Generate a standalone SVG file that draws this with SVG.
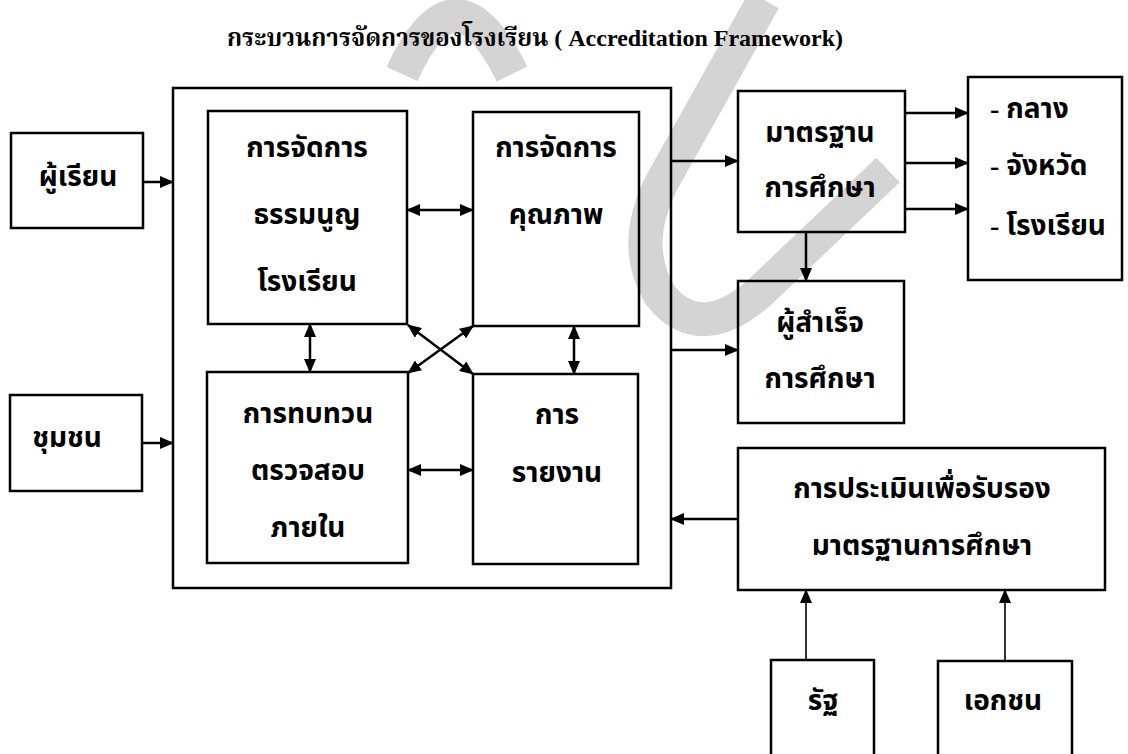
<svg xmlns="http://www.w3.org/2000/svg" width="1128" height="754" viewBox="0 0 1128 754">
<style>
.box{fill:none;stroke:#000;stroke-width:2.5}
.ln{fill:none;stroke:#000;stroke-width:2.5}
.thin{fill:none;stroke:#000;stroke-width:1.6}
.t{font-family:"Liberation Serif","Noto Sans Thai","Noto Serif Thai","Garuda","Loma","Norasi","Kinnari",serif;font-size:28px;font-weight:bold;fill:#000;text-anchor:middle}
.l{text-anchor:start}
.title{font-family:"Liberation Serif","Noto Serif Thai","Noto Sans Thai","Norasi",serif;font-size:24px;font-weight:bold;fill:#000;text-anchor:middle}
.wm{fill:none;stroke:#d4d4d4;stroke-width:34;stroke-linecap:butt}
</style>
<defs>
<marker id="ah" markerUnits="userSpaceOnUse" markerWidth="14" markerHeight="12" refX="13" refY="6" orient="auto-start-reverse" viewBox="0 0 14 12">
<path d="M0,0 L14,6 L0,12 z" fill="#000"/>
</marker>
</defs>
<rect width="1128" height="754" fill="#fff"/>
<g id="watermark">
<path class="wm" d="M764,0 L662,182 Q630,245 660,295 Q700,345 760,292 L888,170"/>
<path class="wm" d="M402,74 Q455,-42 512,74"/>
</g>
<text class="title" x="535" y="46">กระบวนการจัดการของโรงเรียน ( Accreditation Framework)</text>
<g id="outer"><rect class="box" x="173" y="88" width="498" height="500"/></g>
<g id="n-learner"><rect class="box" x="11" y="133" width="132" height="95"/><text class="t" x="78" y="186">ผู้เรียน</text></g>
<g id="n-community"><rect class="box" x="10" y="395" width="132" height="96"/><text class="t" x="67" y="447">ชุมชน</text></g>
<g id="n-charter"><rect class="box" x="208" y="111" width="199" height="213"/>
<text class="t" x="307" y="157">การจัดการ</text><text class="t" x="307" y="224">ธรรมนูญ</text><text class="t" x="307" y="291">โรงเรียน</text></g>
<g id="n-quality"><rect class="box" x="473" y="112" width="166" height="214"/>
<text class="t" x="556" y="157">การจัดการ</text><text class="t" x="556" y="224">คุณภาพ</text></g>
<g id="n-review"><rect class="box" x="207" y="372" width="201" height="191"/>
<text class="t" x="308" y="423">การทบทวน</text><text class="t" x="308" y="480">ตรวจสอบ</text><text class="t" x="308" y="537">ภายใน</text></g>
<g id="n-report"><rect class="box" x="473" y="374" width="165" height="190"/>
<text class="t" x="557" y="424">การ</text><text class="t" x="557" y="482">รายงาน</text></g>
<g id="n-standard"><rect class="box" x="738" y="91" width="167" height="141"/>
<text class="t" x="820" y="142">มาตรฐาน</text><text class="t" x="820" y="197">การศึกษา</text></g>
<g id="n-levels"><rect class="box" x="968" y="77" width="154" height="203"/>
<text class="t l" x="990" y="118">- กลาง</text><text class="t l" x="990" y="175">- จังหวัด</text><text class="t l" x="990" y="235">- โรงเรียน</text></g>
<g id="n-graduate"><rect class="box" x="738" y="281" width="166" height="142"/>
<text class="t" x="820" y="332">ผู้สำเร็จ</text><text class="t" x="820" y="388">การศึกษา</text></g>
<g id="n-assess"><rect class="box" x="738" y="448" width="367" height="142"/>
<text class="t" x="922" y="498">การประเมินเพื่อรับรอง</text><text class="t" x="922" y="555">มาตรฐานการศึกษา</text></g>
<g id="n-state"><rect class="box" x="771" y="660" width="103" height="110"/><text class="t" x="823" y="710">รัฐ</text></g>
<g id="n-private"><rect class="box" x="938" y="661" width="134" height="110"/><text class="t" x="1003" y="710">เอกชน</text></g>
<g id="connectors">
<line class="ln" x1="143" y1="182" x2="173" y2="182" marker-end="url(#ah)"/>
<line class="ln" x1="142" y1="443" x2="173" y2="443" marker-end="url(#ah)"/>
<line class="ln" x1="407" y1="210" x2="473" y2="210" marker-start="url(#ah)" marker-end="url(#ah)"/>
<line class="ln" x1="408" y1="470" x2="473" y2="470" marker-start="url(#ah)" marker-end="url(#ah)"/>
<line class="ln" x1="310" y1="324" x2="310" y2="372" marker-start="url(#ah)" marker-end="url(#ah)"/>
<line class="ln" x1="574" y1="326" x2="574" y2="374" marker-start="url(#ah)" marker-end="url(#ah)"/>
<line class="ln" x1="408" y1="325" x2="473" y2="374" marker-start="url(#ah)" marker-end="url(#ah)"/>
<line class="ln" x1="473" y1="326" x2="408" y2="373" marker-start="url(#ah)" marker-end="url(#ah)"/>
<line class="ln" x1="671" y1="161" x2="738" y2="161" marker-end="url(#ah)"/>
<line class="ln" x1="905" y1="113" x2="968" y2="113" marker-end="url(#ah)"/>
<line class="ln" x1="905" y1="163" x2="968" y2="163" marker-end="url(#ah)"/>
<line class="ln" x1="905" y1="209" x2="968" y2="209" marker-end="url(#ah)"/>
<line class="ln" x1="806" y1="232" x2="806" y2="281" marker-end="url(#ah)"/>
<line class="ln" x1="671" y1="350" x2="738" y2="350" marker-end="url(#ah)"/>
<line class="ln" x1="738" y1="519" x2="671" y2="519" marker-end="url(#ah)"/>
<line class="thin" x1="806" y1="660" x2="806" y2="590" marker-end="url(#ah)"/>
<line class="thin" x1="1005" y1="661" x2="1005" y2="590" marker-end="url(#ah)"/>
</g>
</svg>
